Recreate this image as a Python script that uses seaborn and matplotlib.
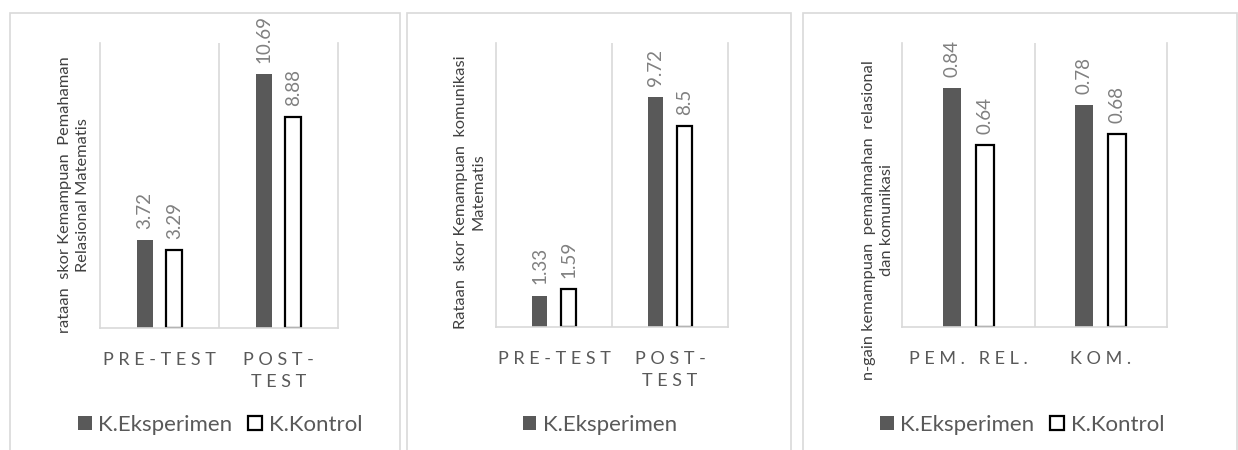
import matplotlib
matplotlib.use("Agg")
import matplotlib.pyplot as plt
from matplotlib.patches import Patch, Rectangle
import pandas as pd
import seaborn as sns

# ---- data -----------------------------------------------------------------
groups = ["K.Eksperimen", "K.Kontrol"]

test_categories = ["PRE-TEST", "POST-TEST"]
test_tick_labels = ["PRE-TEST", "POST-\nTEST"]
relasional_eksperimen = [3.72, 10.69]
relasional_kontrol = [3.29, 8.88]
komunikasi_eksperimen = [1.33, 9.72]
komunikasi_kontrol = [1.59, 8.5]

gain_categories = ["PEM. REL.", "KOM."]
gain_tick_labels = ["PEM. REL.", "KOM."]
gain_eksperimen = [0.84, 0.78]
gain_kontrol = [0.64, 0.68]

ylabels = [
    "rataan  skor Kemampuan  Pemahaman\nRelasional Matematis",
    "Rataan  skor Kemampuan  komunikasi\nMatematis",
    "n-gain kemampuan  pemahmahan  relasional\ndan komunikasi",
]

# ---- style ----------------------------------------------------------------
sns.set_style("white")
plt.rcParams["font.family"] = ["Lato", "DejaVu Sans"]

DARK = "#595959"
GRID = "#d9d9d9"
TEXT = "#595959"
VALUE = "#808080"
palette = {groups[0]: DARK, groups[1]: "white"}


def frame(cats, eks, kon):
    return pd.DataFrame({
        "kategori": list(cats) * 2,
        "kelompok": [groups[0]] * len(cats) + [groups[1]] * len(cats),
        "nilai": list(eks) + list(kon),
    })


def letterspace(text):
    return "\n".join(" ".join(line) for line in text.split("\n"))


W, H = 1238, 450
fig = plt.figure(figsize=(W / 100, H / 100), dpi=100)

panels = [
    dict(rect=(100, 43, 338, 328), cats=test_categories, ticks=test_tick_labels,
         eks=relasional_eksperimen, kon=relasional_kontrol, ymax=12,
         frame=(10, 400), label_xy=(74, 195), legend_x=220, legend_groups=groups),
    dict(rect=(496, 43, 728, 327), cats=test_categories, ticks=test_tick_labels,
         eks=komunikasi_eksperimen, kon=komunikasi_kontrol, ymax=12,
         frame=(407, 791), label_xy=(470, 192), legend_x=600, legend_groups=groups[:1]),
    dict(rect=(902, 43, 1167, 327), cats=gain_categories, ticks=gain_tick_labels,
         eks=gain_eksperimen, kon=gain_kontrol, ymax=1.0,
         frame=(803, 1236.5), label_xy=(878, 220), legend_x=1022, legend_groups=groups),
]

for p, ylabel in zip(panels, ylabels):
    # outer chart frame
    fx0, fx1 = p["frame"]
    fig.add_artist(Rectangle((fx0 / W, -0.02), (fx1 - fx0) / W, 1.02 - 13 / H,
                             transform=fig.transFigure, fill=False,
                             edgecolor=GRID, linewidth=1.2))

    x0, y0, x1, y1 = p["rect"]
    ax = fig.add_axes([x0 / W, 1 - y1 / H, (x1 - x0) / W, (y1 - y0) / H])
    df = frame(p["cats"], p["eks"], p["kon"])
    sns.barplot(data=df, x="kategori", y="nilai", hue="kelompok",
                hue_order=groups, order=p["cats"], palette=palette,
                width=0.5, gap=0.46, saturation=1, errorbar=None,
                legend=False, ax=ax)

    eks_bars, kon_bars = ax.containers[0], ax.containers[1]
    for bar in eks_bars:
        bar.set_edgecolor(DARK)
        bar.set_linewidth(0)
    for bar in kon_bars:
        bar.set_edgecolor("black")
        bar.set_linewidth(1.6)

    for container, values in zip((eks_bars, kon_bars), (p["eks"], p["kon"])):
        ax.bar_label(container, labels=[f"{v:g}" for v in values],
                     rotation=90, padding=8, color=VALUE, fontsize=13.5)

    ax.set_ylim(0, p["ymax"])
    ax.set_xlim(-0.5, len(p["cats"]) - 0.5)
    ax.set_yticks([])
    ax.set_xlabel("")
    ax.set_ylabel("")
    ax.set_xticks(range(len(p["cats"])))
    ax.set_xticklabels([letterspace(t) for t in p["ticks"]],
                       color=TEXT, fontsize=13, linespacing=1.5, va="top")
    ax.tick_params(axis="x", length=0, pad=17)
    ax.set_xticks([i + 0.5 for i in range(len(p["cats"]) - 1)], minor=True)
    ax.tick_params(axis="x", which="minor", length=0)
    ax.grid(which="minor", axis="x", color=GRID, linewidth=1.2)
    ax.grid(which="major", visible=False)
    for side in ("left", "right", "bottom"):
        ax.spines[side].set_visible(True)
        ax.spines[side].set_color(GRID)
        ax.spines[side].set_linewidth(1.2)
    ax.spines["top"].set_visible(False)
    ax.set_facecolor("white")

    lx, ly = p["label_xy"]
    fig.text(lx / W, 1 - ly / H, ylabel, rotation=90, ha="center", va="center",
             multialignment="center", color="#404040", fontsize=11.8,
             linespacing=1.35)

    handles = [Patch(facecolor=palette[g],
                     edgecolor=DARK if g == groups[0] else "black",
                     linewidth=0 if g == groups[0] else 1.6, label=g)
               for g in p["legend_groups"]]
    fig.legend(handles=handles, loc="center",
               bbox_to_anchor=(p["legend_x"] / W, 1 - 425 / H),
               ncol=len(handles), frameon=False, fontsize=16,
               handlelength=0.62, handleheight=0.62, handletextpad=0.3,
               columnspacing=0.7, labelcolor=TEXT)

fig.savefig("out.png", dpi=100, facecolor="white")
